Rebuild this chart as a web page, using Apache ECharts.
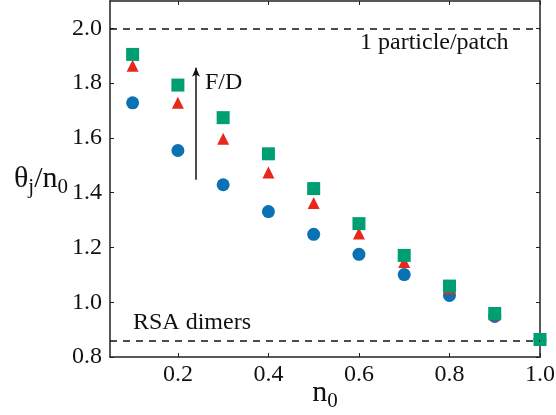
<!DOCTYPE html>
<html><head><meta charset="utf-8">
<script src="https://cdn.jsdelivr.net/npm/echarts@6/dist/echarts.min.js"></script>
<style>html,body{margin:0;padding:0;background:#fff}#c{width:556px;height:415px}</style>
</head><body><div id="c"></div>
<script>
const n0 = [0.1, 0.2, 0.3, 0.4, 0.5, 0.6, 0.7, 0.8, 0.9, 1.0];
const circles = [1.728, 1.554, 1.429, 1.331, 1.248, 1.175, 1.101, 1.025, 0.948, 0.864];
const triangles = [1.864, 1.728, 1.597, 1.474, 1.362, 1.251, 1.147, 1.050, 0.955, 0.864];
const squares = [1.905, 1.793, 1.674, 1.542, 1.415, 1.287, 1.171, 1.059, 0.959, 0.864];
const xTicks = [0.2, 0.4, 0.6, 0.8, 1.0];
const yTicks = [0.8, 1.0, 1.2, 1.4, 1.6, 1.8, 2.0];
const refLines = [2.0, 0.864];
const arrowX = 0.24, arrowFrom = 1.447, arrowTo = 1.856;

const font = 'Liberation Serif';
const chart = echarts.init(document.getElementById('c'));
const pair = ys => n0.map((x, i) => [x, ys[i]]);
const axCommon = {
  axisLine: {show: true, lineStyle: {color: '#222', width: 1.5}},
  splitLine: {show: false},
};
const richName = {a: {fontFamily: font, fontSize: 30, color: '#111'}, s: {fontFamily: font, fontSize: 21, color: '#111', padding: [16, 0, 0, 0]}};
chart.setOption({
  animation: false,
  grid: {left: 110, right: 16, top: 1, bottom: 58, containLabel: false, outerBoundsMode: 'none'},
  xAxis: [
    Object.assign({type: 'value', min: 0.05, max: 1.0, position: 'bottom',
      axisTick: {inside: true, length: 4, customValues: xTicks, lineStyle: {color: '#222'}},
      axisLabel: {customValues: xTicks, formatter: v => v.toFixed(1), color: '#111', fontFamily: font, fontSize: 24, margin: 6},
      name: '{a|n}{s|0}', nameLocation: 'middle', nameGap: 18, nameMoveOverlap: false,
      nameTextStyle: {rich: richName}
    }, axCommon),
    Object.assign({type: 'value', min: 0.05, max: 1.0, position: 'top',
      axisTick: {inside: true, length: 4, customValues: xTicks, lineStyle: {color: '#222'}},
      axisLabel: {show: false}}, axCommon)
  ],
  yAxis: [
    Object.assign({type: 'value', min: 0.8, max: 2.1, position: 'left',
      axisTick: {inside: true, length: 4, customValues: yTicks, lineStyle: {color: '#222'}},
      axisLabel: {customValues: yTicks, formatter: v => v.toFixed(1), color: '#111', fontFamily: font, fontSize: 24, margin: 8},
      name: '{a|θ}{s|j}{a|/n}{s|0}', nameLocation: 'middle', nameRotate: 0, nameGap: 42, nameMoveOverlap: false,
      nameTextStyle: {rich: richName, padding: [0, 0, 0, 0]}
    }, axCommon),
    Object.assign({type: 'value', min: 0.8, max: 2.1, position: 'right',
      axisTick: {inside: true, length: 4, customValues: yTicks, lineStyle: {color: '#222'}},
      axisLabel: {show: false}}, axCommon)
  ],
  series: [
    {type: 'line', data: [], silent: true,
      markLine: {silent: true, symbol: 'none', label: {show: false},
        lineStyle: {type: [7, 6], color: '#111', width: 1.5},
        data: refLines.map(v => ({yAxis: v}))}},
    {type: 'line', data: [], silent: true,
      markLine: {silent: true, symbol: ['none', 'arrow'], symbolSize: [6, 9], label: {show: false},
        lineStyle: {type: 'solid', color: '#111', width: 1.5},
        data: [[{coord: [arrowX, arrowFrom]}, {coord: [arrowX, arrowTo]}]]}},
    {type: 'scatter', data: pair(circles), symbol: 'circle', symbolSize: 13, itemStyle: {color: '#0A72B2', opacity: 1}},
    {type: 'scatter', data: pair(triangles), symbol: 'triangle', symbolSize: 12, itemStyle: {color: '#E8281B', opacity: 1}},
    {type: 'scatter', data: pair(squares), symbol: 'rect', symbolSize: 13, itemStyle: {color: '#009E73', opacity: 1}}
  ],
  graphic: [
    {type: 'text', left: 360, top: 31, style: {text: '1 particle/patch', font: '24px "Liberation Serif"', fill: '#111'}},
    {type: 'text', left: 133, top: 311, style: {text: 'RSA dimers', font: '24px "Liberation Serif"', fill: '#111'}},
    {type: 'text', left: 205, top: 71, style: {text: 'F/D', font: '24px "Liberation Serif"', fill: '#111'}}
  ]
});
</script></body></html>
